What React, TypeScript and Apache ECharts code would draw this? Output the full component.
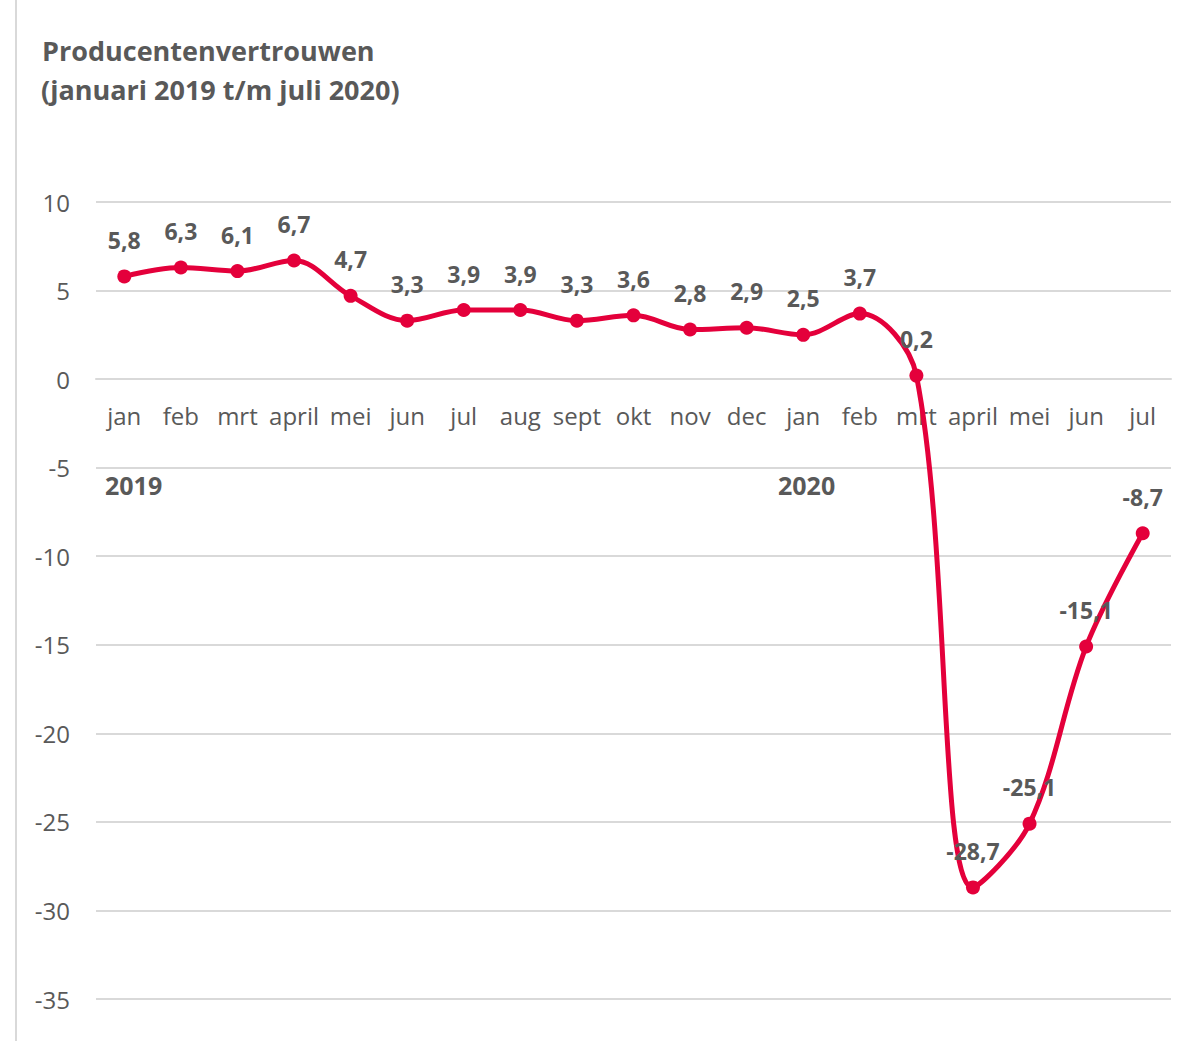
import React, { useEffect, useRef } from "react";
import * as echarts from "echarts";

const categories = ["jan", "feb", "mrt", "april", "mei", "jun", "jul", "aug", "sept", "okt", "nov", "dec", "jan", "feb", "mrt", "april", "mei", "jun", "jul"];
const values = [5.8, 6.3, 6.1, 6.7, 4.7, 3.3, 3.9, 3.9, 3.3, 3.6, 2.8, 2.9, 2.5, 3.7, 0.2, -28.7, -25.1, -15.1, -8.7];
const titleLines = ["Producentenvertrouwen", "(januari 2019 t/m juli 2020)"];
const yearLabels = ["2019", "2020"];

const FONT = "'Open Sans', 'Noto Sans', sans-serif";
const GREY = "#595959";
const GRID_TOP = 202;
const GRID_BOTTOM = 42;
const HEIGHT = 1041;
const Y_MIN = -35;
const Y_MAX = 10;

export default function App() {
  const ref = useRef<HTMLDivElement>(null);
  useEffect(() => {
    if (!ref.current) return;
    const chart = echarts.init(ref.current, null, { renderer: "svg" });
    const plotH = HEIGHT - GRID_TOP - GRID_BOTTOM;
    const zeroOffset = (Y_MAX / (Y_MAX - Y_MIN)) * plotH;
    chart.setOption({
      animation: false,
      backgroundColor: "#ffffff",
      textStyle: { fontFamily: FONT },
      grid: { left: 96, right: 24, top: GRID_TOP, bottom: GRID_BOTTOM },
      xAxis: {
        type: "category",
        data: categories,
        boundaryGap: true,
        position: "top",
        offset: -zeroOffset,
        axisLine: { show: true, onZero: false, lineStyle: { color: "#d9d9d9", width: 2 } },
        axisTick: { show: false },
        axisLabel: { inside: true, color: GREY, fontSize: 24, fontFamily: FONT, margin: 24, interval: 0 },
      },
      yAxis: {
        type: "value",
        min: Y_MIN,
        max: Y_MAX,
        interval: 5,
        axisLine: { show: false },
        axisTick: { show: false },
        axisLabel: { color: GREY, fontSize: 24, fontFamily: FONT, margin: 26 },
        splitLine: { lineStyle: { color: "#d9d9d9", width: 2 } },
      },
      series: [
        {
          type: "line",
          data: values,
          smooth: 0.35,
          symbol: "circle",
          symbolSize: 14,
          itemStyle: { color: "#e4003b" },
          lineStyle: { color: "#e4003b", width: 5 },
          z: 3,
          label: {
            show: true,
            position: "top",
            distance: 18,
            color: GREY,
            fontSize: 23,
            fontWeight: "bold",
            fontFamily: FONT,
            formatter: (p: any) => String(p.value).replace(".", ","),
          },
        },
      ],
      graphic: [
        {
          type: "line",
          shape: { x1: 16, y1: 0, x2: 16, y2: HEIGHT },
          style: { stroke: "#d9d9d9", lineWidth: 2 },
        },
        {
          type: "text",
          left: 42,
          top: 37,
          style: { text: titleLines[0], fill: GREY, font: `bold 27px ${FONT}` },
        },
        {
          type: "text",
          left: 41,
          top: 76,
          style: { text: titleLines[1], fill: GREY, font: `bold 27px ${FONT}` },
        },
        {
          type: "text",
          left: 105,
          top: 472,
          style: { text: yearLabels[0], fill: GREY, font: `bold 25px ${FONT}` },
        },
        {
          type: "text",
          left: 778,
          top: 472,
          style: { text: yearLabels[1], fill: GREY, font: `bold 25px ${FONT}` },
        },
      ],
    });
    return () => chart.dispose();
  }, []);
  return <div ref={ref} style={{ position: "fixed", left: 0, top: 0, width: 1195, height: HEIGHT }} />;
}
